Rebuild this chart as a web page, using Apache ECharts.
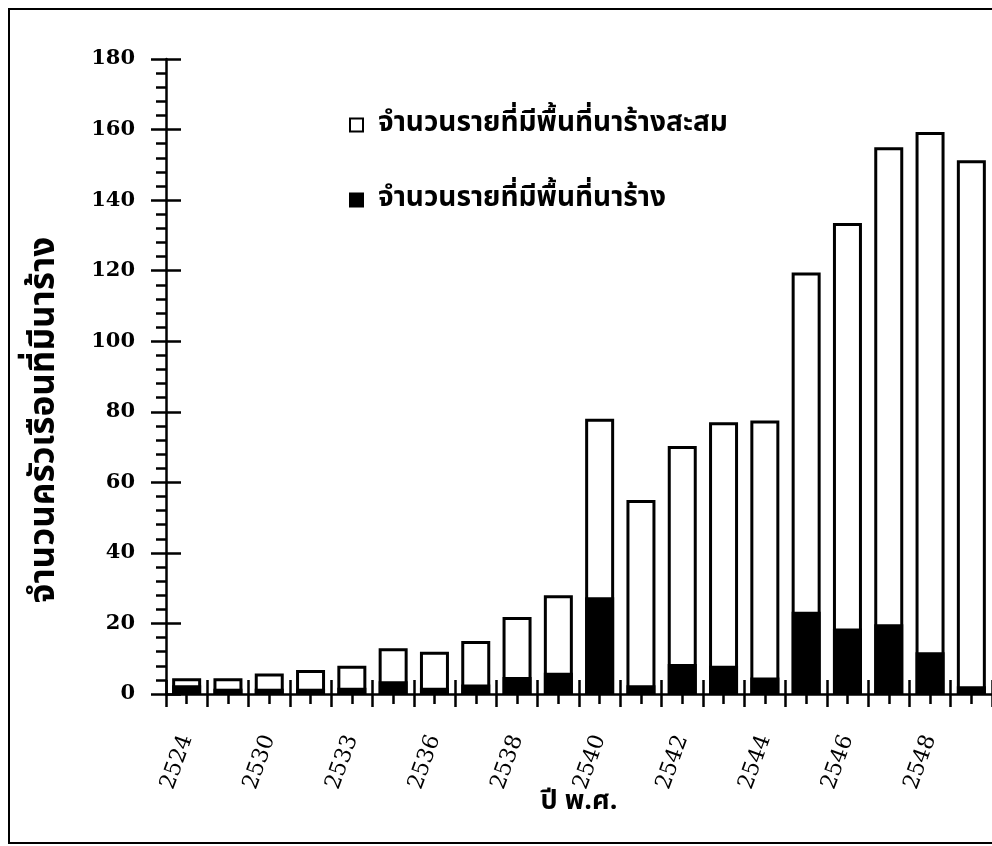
<!DOCTYPE html>
<html>
<head>
<meta charset="utf-8">
<script src="https://cdn.jsdelivr.net/npm/echarts@6/dist/echarts.min.js"></script>
<style>
html,body{margin:0;padding:0;background:#fff;}
#main{width:992px;height:846px;}
</style>
</head>
<body>
<div id="main"></div>
<script>
// Data
var years = ['2524','2528','2530','2532','2533','2535','2536','2537','2538','2539','2540','2541','2542','2543','2544','2545','2546','2547','2548','2549'];
var cumulative = [4.5, 4.5, 5.8, 6.8, 8, 13, 12, 15, 21.8, 28, 78, 55, 70.3, 77, 77.5, 119.5, 133.5, 155, 159.3, 151.3];
var annual = [2.5, 1.5, 1.5, 1.5, 1.8, 3.6, 1.8, 2.7, 4.8, 6, 27.4, 2.5, 8.5, 8, 4.7, 23.3, 18.6, 19.8, 11.8, 2.2];
var yTicks = {min: 0, max: 180, interval: 20};
var nameCum = 'จำนวนรายที่มีพื้นที่นาร้างสะสม';
var nameAnn = 'จำนวนรายที่มีพื้นที่นาร้าง';
var xTitle = 'ปี พ.ศ.';
var yTitle = 'จำนวนครัวเรือนที่มีนาร้าง';

var thaiFont = '"Noto Sans Thai","Noto Serif Thai","Loma","Garuda","Tlwg Typo","Norasi","DejaVu Sans",sans-serif';
var serif = '"DejaVu Serif","Liberation Serif",serif';

var chart = echarts.init(document.getElementById('main'), null, {renderer: 'canvas'});
var baseX = {
  type: 'category', data: years, position: 'bottom', boundaryGap: true
};
chart.setOption({
  animation: false,
  backgroundColor: '#fff',
  grid: {left: 166, right: -9, top: 59, bottom: 152, containLabel: false},
  legend: {
    orient: 'vertical', left: 349, top: 110, padding: 0,
    itemWidth: 13, itemHeight: 13, itemGap: 45,
    icon: 'rect',
    data: [nameCum, nameAnn],
    textStyle: {fontFamily: thaiFont, fontSize: 28, fontWeight: 'bold', color: '#000', lineHeight: 30, padding: [0, 0, 0, 10]}
  },
  xAxis: [
    Object.assign({}, baseX, {
      name: xTitle, nameLocation: 'middle', nameGap: 96, nameMoveOverlap: false,
      nameTextStyle: {fontFamily: thaiFont, fontSize: 27, fontWeight: 'bold', color: '#000'},
      axisLine: {show: true, lineStyle: {color: '#000', width: 2.5}},
      axisTick: {show: true, inside: false, length: 13, alignWithLabel: false, interval: 0, lineStyle: {color: '#000', width: 2.5}},
      axisLabel: {show: true, interval: 1, rotate: 70, margin: 42, fontFamily: serif, fontSize: 22, color: '#000'},
      splitLine: {show: false}
    }),
    Object.assign({}, baseX, {
      axisLine: {show: false},
      axisTick: {show: true, inside: true, length: 14, alignWithLabel: false, interval: 0, lineStyle: {color: '#000', width: 2.5}},
      axisLabel: {show: false}, splitLine: {show: false}
    }),
    Object.assign({}, baseX, {
      axisLine: {show: false},
      axisTick: {show: true, inside: false, length: 10, alignWithLabel: true, interval: 0, lineStyle: {color: '#000', width: 2.5}},
      axisLabel: {show: false}, splitLine: {show: false}
    })
  ],
  yAxis: [
    {
      type: 'value', min: yTicks.min, max: yTicks.max, interval: yTicks.interval, position: 'left',
      axisLine: {show: true, lineStyle: {color: '#000', width: 2.5}},
      axisTick: {show: true, inside: false, length: 15, lineStyle: {color: '#000', width: 2.5}},
      minorTick: {show: true, splitNumber: 5, length: 10, lineStyle: {color: '#000', width: 2.5}},
      axisLabel: {margin: 31, fontFamily: serif, fontSize: 21, fontWeight: 'bold', color: '#000'},
      splitLine: {show: false}
    },
    {
      type: 'value', min: yTicks.min, max: yTicks.max, interval: yTicks.interval, position: 'left',
      axisLine: {show: false},
      axisTick: {show: true, inside: true, length: 15, lineStyle: {color: '#000', width: 2.5}},
      axisLabel: {show: false}, splitLine: {show: false}
    }
  ],
  series: [
    {
      name: nameCum, type: 'bar', data: cumulative, xAxisIndex: 0, yAxisIndex: 0,
      barWidth: 29, barGap: '-100%',
      itemStyle: {color: '#fff', borderColor: '#000', borderWidth: 3}
    },
    {
      name: nameAnn, type: 'bar', data: annual, xAxisIndex: 0, yAxisIndex: 0,
      barWidth: 29, barGap: '-100%',
      itemStyle: {color: '#000', borderColor: '#000', borderWidth: 3}
    }
  ],
  graphic: [
    {type: 'rect', shape: {x: 9, y: 9, width: 1000, height: 834}, style: {fill: 'none', stroke: '#000', lineWidth: 2}, silent: true},
    {type: 'text', x: 47, y: 420, rotation: Math.PI / 2,
     style: {text: yTitle, fontFamily: thaiFont, fontSize: 35, fontWeight: 'bold', fill: '#000', align: 'center', verticalAlign: 'middle'}}
  ]
});
</script>
</body>
</html>
